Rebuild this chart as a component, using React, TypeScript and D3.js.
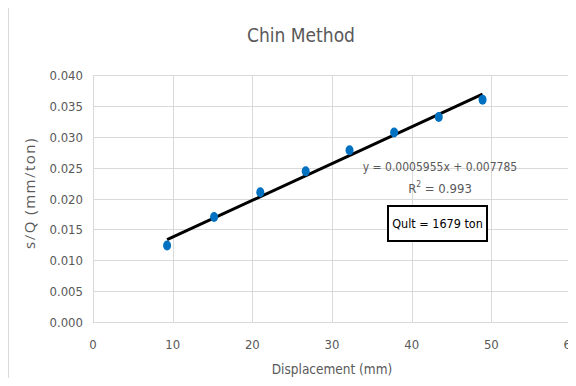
import React, { useEffect, useRef } from 'react'
import * as d3 from 'd3'

const displacement = [9.3, 15.2, 21.0, 26.7, 32.2, 37.8, 43.4, 48.9]
const sOverQ = [0.0124, 0.0170, 0.0210, 0.0244, 0.0278, 0.0307, 0.0332, 0.0360]
const xTicks = [0, 10, 20, 30, 40, 50, 60]
const yTicks = [0, 0.005, 0.01, 0.015, 0.02, 0.025, 0.03, 0.035, 0.04]
const slope = 0.0005955
const intercept = 0.007785

const font = "'DejaVu Sans Condensed', 'Roboto', sans-serif"
const grey = '#595959'

export default function App() {
  const ref = useRef<SVGSVGElement>(null)

  useEffect(() => {
    const svg = d3.select(ref.current)
    svg.selectAll('*').remove()

    const margin = { top: 75, right: 5, bottom: 64, left: 93 }
    const height = 386 - margin.top - margin.bottom

    const x = d3.scaleLinear().domain([0, 60]).range([margin.left, margin.left + 478])
    const y = d3.scaleLinear().domain([0, 0.04]).range([margin.top + height, margin.top])

    svg.append('rect').attr('width', 576).attr('height', 386).attr('fill', '#fff')
    // left edge of the chart frame
    svg.append('line').attr('x1', 8.5).attr('x2', 8.5).attr('y1', 0).attr('y2', 386)
      .attr('stroke', '#d9d9d9')

    // gridlines
    svg.append('g').selectAll('line').data(yTicks).join('line')
      .attr('x1', margin.left).attr('x2', 576)
      .attr('y1', d => Math.round(y(d)) + 0.5).attr('y2', d => Math.round(y(d)) + 0.5)
      .attr('stroke', '#d9d9d9')
    svg.append('g').selectAll('line').data(xTicks).join('line')
      .attr('x1', d => Math.round(x(d)) + 0.5).attr('x2', d => Math.round(x(d)) + 0.5)
      .attr('y1', margin.top).attr('y2', margin.top + height)
      .attr('stroke', '#d9d9d9')

    // tick labels
    svg.append('g').selectAll('text').data(yTicks).join('text')
      .attr('x', margin.left - 10).attr('y', d => y(d) + 5)
      .attr('text-anchor', 'end')
      .attr('font-family', font).attr('font-size', 13).attr('fill', grey)
      .text(d => d3.format('.3f')(d))
    svg.append('g').selectAll('text').data(xTicks).join('text')
      .attr('x', d => x(d)).attr('y', margin.top + height + 27)
      .attr('text-anchor', 'middle')
      .attr('font-family', font).attr('font-size', 13).attr('fill', grey)
      .text(d => d)

    // linear trendline
    const ext = d3.extent(displacement) as [number, number]
    svg.append('line')
      .attr('x1', x(ext[0])).attr('y1', y(slope * ext[0] + intercept))
      .attr('x2', x(ext[1])).attr('y2', y(slope * ext[1] + intercept))
      .attr('stroke', '#000').attr('stroke-width', 3)

    svg.append('g').selectAll('ellipse').data(displacement).join('ellipse')
      .attr('cx', d => x(d)).attr('cy', (d, i) => y(sOverQ[i]))
      .attr('rx', 4).attr('ry', 5)
      .attr('fill', '#0070c0')

    svg.append('text').attr('x', 301).attr('y', 42).attr('text-anchor', 'middle')
      .attr('font-family', font).attr('font-size', 19).attr('fill', grey).text('Chin Method')
    svg.append('text').attr('x', 332).attr('y', 374).attr('text-anchor', 'middle')
      .attr('font-family', font).attr('font-size', 13.5).attr('fill', grey).text('Displacement (mm)')
    svg.append('text').attr('transform', 'translate(35,193) rotate(-90)').attr('text-anchor', 'middle')
      .attr('font-family', "'Open Sans', sans-serif").attr('font-size', 15).attr('letter-spacing', 1.5)
      .attr('fill', grey)
      .text('s/Q (mm/ton)')

    svg.append('text').attr('x', 440).attr('y', 171).attr('text-anchor', 'middle')
      .attr('font-family', font).attr('font-size', 12).attr('fill', grey)
      .text(`y = ${slope}x + ${intercept}`)
    const r2 = svg.append('text').attr('x', 440).attr('y', 193).attr('text-anchor', 'middle')
      .attr('font-family', font).attr('font-size', 13).attr('fill', grey)
    r2.append('tspan').text('R')
    r2.append('tspan').attr('font-size', 8.5).attr('dy', -6).text('2')
    r2.append('tspan').attr('dy', 6).text(' = 0.993')

    svg.append('rect').attr('x', 388).attr('y', 206).attr('width', 99).attr('height', 35)
      .attr('fill', '#fff').attr('stroke', '#000').attr('stroke-width', 2)
    svg.append('text').attr('x', 437.5).attr('y', 228).attr('text-anchor', 'middle')
      .attr('font-family', font).attr('font-size', 12.5).attr('fill', '#000')
      .text('Qult = 1679 ton')
  }, [])

  return (
    <div style={{ width: 576, height: 386, margin: -8 }}>
      <svg ref={ref} width={576} height={386} style={{ display: 'block' }} />
    </div>
  )
}
